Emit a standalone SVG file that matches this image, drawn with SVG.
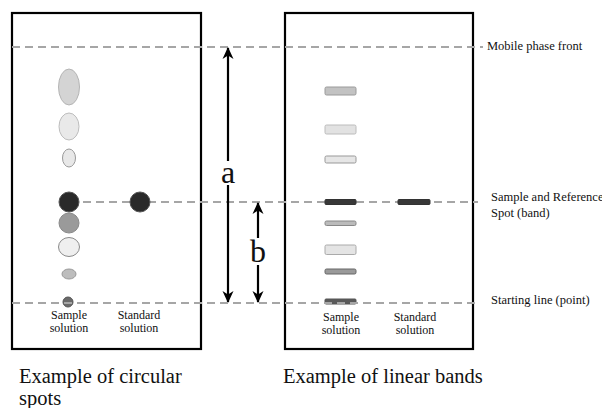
<svg xmlns="http://www.w3.org/2000/svg" width="602" height="408" viewBox="0 0 602 408">
<style>
.panel{fill:#fff;stroke:#000;stroke-width:2.2}
.dash{stroke:#a6a6a6;stroke-width:2;stroke-dasharray:8 5;fill:none}
.arr{stroke:#000;stroke-width:2.2;fill:none}
text{font-family:"Liberation Serif","Times New Roman",Tinos,"DejaVu Serif",serif;fill:#111}
.sm{font-size:12px;text-anchor:middle}
.lab{font-size:12.5px}
.cap{font-size:20.5px}
.big{font-size:32px;text-anchor:middle}
</style>
<defs>
<marker id="ah" viewBox="0 0 12 12" refX="11" refY="6" markerWidth="12" markerHeight="12" markerUnits="userSpaceOnUse" orient="auto-start-reverse">
<path d="M0,0.5 L12,6 L0,11.5 L3.5,6 z" fill="#000"/>
</marker>
</defs>
<rect width="602" height="408" fill="#fff"/>
<g id="panel-circular">
<rect class="panel" x="12" y="13" width="189" height="336"/>
</g>
<g id="panel-linear">
<rect class="panel" x="285" y="13" width="188" height="336"/>
</g>
<g id="connectors">
<line class="dash" x1="12" y1="47" x2="483" y2="47"/>
<line class="dash" x1="83" y1="202" x2="478" y2="202"/>
<line class="arr" x1="228" y1="48" x2="228" y2="161" marker-start="url(#ah)"/>
<line class="arr" x1="228" y1="185" x2="228" y2="302" marker-end="url(#ah)"/>
<line class="arr" x1="258" y1="203" x2="258" y2="238" marker-start="url(#ah)"/>
<line class="arr" x1="258" y1="265" x2="258" y2="302" marker-end="url(#ah)"/>
</g>
<g id="spots-sample">
<ellipse cx="69" cy="87" rx="10.5" ry="18" fill="#d4d4d4" stroke="#b5b5b5" stroke-width="1"/>
<ellipse cx="69" cy="126.5" rx="10" ry="13.5" fill="#e9e9e9" stroke="#bdbdbd" stroke-width="1"/>
<ellipse cx="69" cy="158" rx="6.5" ry="9" fill="#e8e8e8" stroke="#999" stroke-width="1"/>
<circle cx="69" cy="202" r="10" fill="#2a2a2a" stroke="#555" stroke-width="1"/>
<circle cx="69" cy="223" r="10" fill="#9a9a9a" stroke="#8a8a8a" stroke-width="1"/>
<ellipse cx="69" cy="247" rx="10.5" ry="9.5" fill="#efefef" stroke="#8a8a8a" stroke-width="1"/>
<ellipse cx="69" cy="274" rx="7" ry="5" fill="#bdbdbd" stroke="#999" stroke-width="1"/>
<circle cx="68" cy="302" r="5" fill="#6a6a6a" stroke="#555" stroke-width="1"/>
</g>
<g id="spot-standard">
<circle cx="140" cy="202" r="10" fill="#2a2a2a" stroke="#555" stroke-width="1"/>
</g>
<g id="bands-sample">
<rect x="325" y="87" width="31" height="8" rx="1.5" fill="#c2c2c2" stroke="#9a9a9a" stroke-width="1"/>
<rect x="325" y="125" width="31" height="9" rx="1.5" fill="#e2e2e2" stroke="#bcbcbc" stroke-width="1"/>
<rect x="325" y="156" width="31" height="7" rx="1.5" fill="#e6e6e6" stroke="#999" stroke-width="1"/>
<rect x="325" y="199.5" width="31" height="5" rx="1" fill="#383838" stroke="#333" stroke-width="1"/>
<rect x="325" y="221" width="31" height="4.5" rx="1.5" fill="#bbb" stroke="#888" stroke-width="1"/>
<rect x="325" y="245" width="31" height="9.5" rx="1.5" fill="#e4e4e4" stroke="#aaa" stroke-width="1"/>
<rect x="325" y="269" width="31" height="5" rx="1.5" fill="#9a9a9a" stroke="#666" stroke-width="1"/>
<rect x="325" y="299" width="31" height="5" rx="1" fill="#5a5a5a" stroke="#555" stroke-width="1"/>
</g>
<g id="band-standard">
<rect x="398" y="199.5" width="32" height="5" rx="1" fill="#383838" stroke="#333" stroke-width="1"/>
</g>
<g id="start-line">
<line class="dash" x1="12" y1="303" x2="478" y2="303"/>
</g>
<g id="labels">
<text class="sm" x="69" y="319">Sample</text>
<text class="sm" x="69" y="331.5">solution</text>
<text class="sm" x="139" y="319">Standard</text>
<text class="sm" x="139" y="331.5">solution</text>
<text class="sm" x="341" y="321">Sample</text>
<text class="sm" x="341" y="333.5">solution</text>
<text class="sm" x="415" y="321">Standard</text>
<text class="sm" x="415" y="333.5">solution</text>
<text class="big" x="228" y="183">a</text>
<text class="big" x="258" y="262">b</text>
<text class="lab" x="487" y="50">Mobile phase front</text>
<text class="lab" x="491" y="201">Sample and Reference</text>
<text class="lab" x="491" y="217">Spot (band)</text>
<text class="lab" x="491" y="304">Starting line (point)</text>
<text class="cap" x="19" y="382.5">Example of circular</text>
<text class="cap" x="19" y="405">spots</text>
<text class="cap" x="283" y="382.5">Example of linear bands</text>
</g>
</svg>
